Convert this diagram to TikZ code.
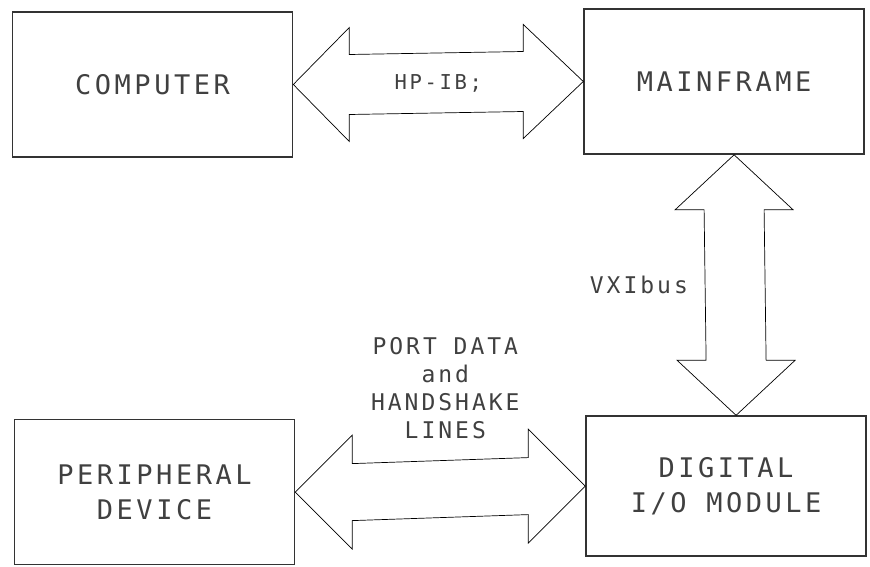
\documentclass[tikz,border=0pt]{standalone}
\usepackage{fontspec}
\newfontfamily\plotfont{DejaVu Sans Mono}[LetterSpace=13]
\usepackage{tikz}
\usetikzlibrary{positioning, calc}

\begin{document}
\begin{tikzpicture}[
    x=1pt, y=1pt,
    box/.style = {draw=black!80, line width=1.6pt,
                  minimum width=280pt, minimum height=145pt, align=center,
                  text=black!75, font=\plotfont\fontsize{27}{35}\selectfont},
    bus/.style = {draw, line width=0.7pt, line join=miter},
    buslabel/.style = {text=black!75, inner sep=0pt, align=center,
                  font=\plotfont\fontsize{23}{28}\selectfont},
    node distance=260pt and 290pt
  ]

  \useasboundingbox (0,0) rectangle (870,-567);

  % Computer block
  \node[box] (computer) at (152.5,-84.5) {COMPUTER};

  % Mainframe block to the right
  \node[box, right=of computer, yshift=3pt] (mainframe) {MAINFRAME};

  % Peripheral block below
  \node[box, below=of computer, xshift=2pt, yshift=-1pt] (peripheral) {PERIPHERAL\\DEVICE};

  % Digital I/O block
  \node[box, right=of peripheral, yshift=6pt, minimum height=140pt] (digital) {DIGITAL\\I/O MODULE};

  % HP-IB bus between computer and mainframe
  \draw[bus] (computer.east) -- ++(56,57) -- ++(0,-27)
    -- ($(mainframe.west)+(-60,30)$) -- ++(0,27) -- (mainframe.west)
    -- ++(-60,-57) -- ++(0,27)
    -- ($(computer.east)+(56,-30)$) -- ++(0,-27) -- cycle;
  \node[buslabel, font=\plotfont\fontsize{20.5}{25}\selectfont] (hpib)
    at ($(computer.east)!0.5!(mainframe.west)$) {HP-IB;};

  % VXIbus between mainframe and digital module
  \coordinate (vtop) at ([xshift=10pt]mainframe.south);
  \coordinate (vbot) at ([xshift=10pt]digital.north);
  \draw[bus] (vtop) -- ++(59,-55) -- ++(-29,0)
    -- ($(vbot)+(30,55)$) -- ++(29,0) -- (vbot)
    -- ++(-59,55) -- ++(29,0)
    -- ($(vtop)+(-30,-55)$) -- ++(-29,0) -- cycle;
  \node[buslabel, anchor=east] (vxibus) at ($(vtop)!0.5!(vbot)+(-47,0)$) {VXIbus};

  % Port lines between peripheral and digital module
  \draw[bus] (peripheral.east) -- ++(57,57) -- ++(0,-28.5)
    -- ($(digital.west)+(-57,28.5)$) -- ++(0,28.5) -- (digital.west)
    -- ++(-57,-57) -- ++(0,28.5)
    -- ($(peripheral.east)+(57,-28.5)$) -- ++(0,-28.5) -- cycle;
  \node[buslabel, anchor=south] (portlines)
    at ($(peripheral.east)!0.5!(digital.west)+(5,50)$)
    {PORT DATA\\and\\HANDSHAKE\\LINES};

\end{tikzpicture}
\end{document}
